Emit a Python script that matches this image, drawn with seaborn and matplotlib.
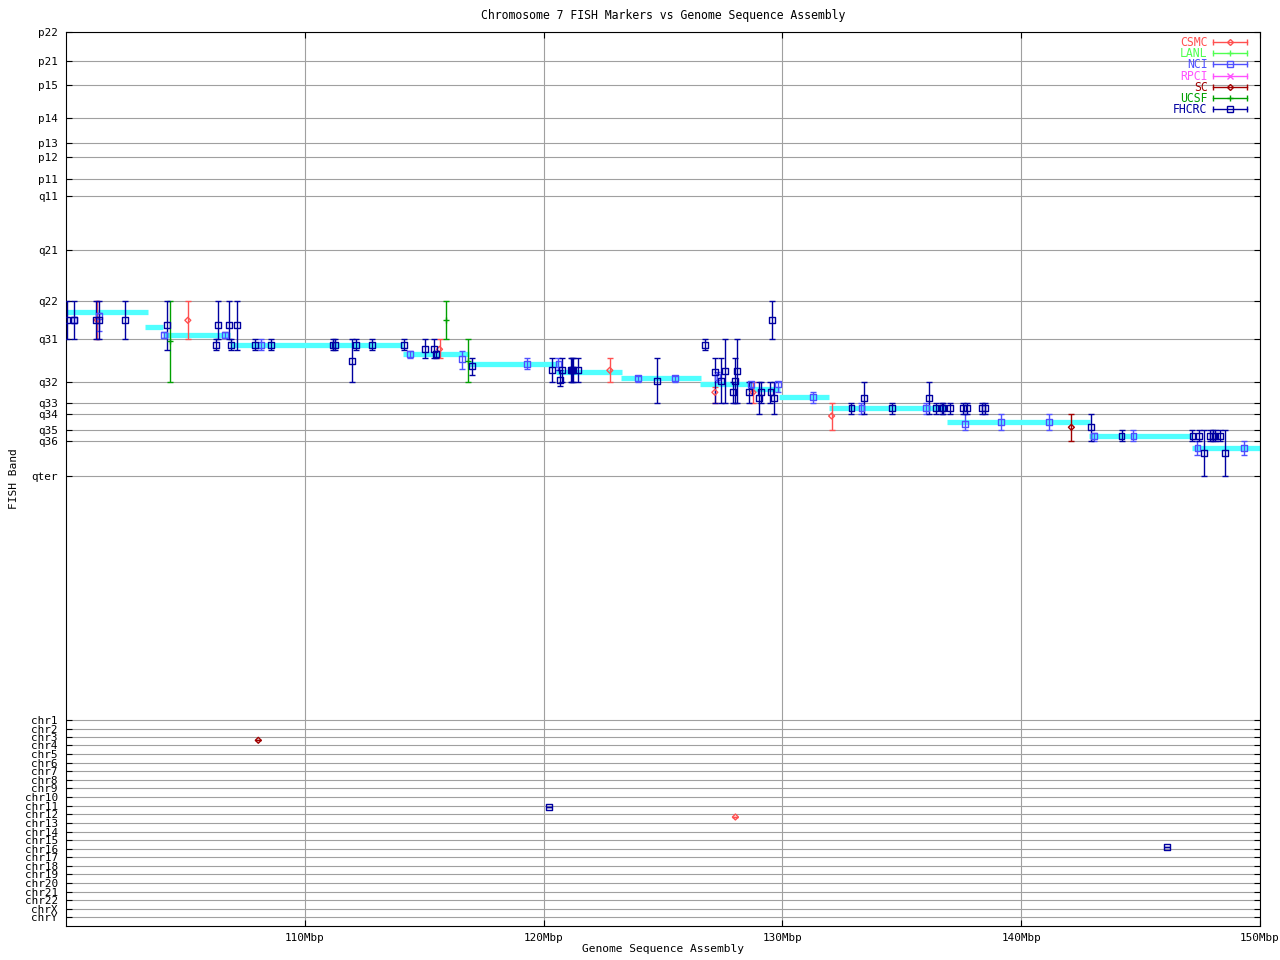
import pandas as pd
import matplotlib.pyplot as plt
import seaborn as sns
from matplotlib.lines import Line2D
from matplotlib.legend_handler import HandlerLine2D

plt.rcParams['font.family'] = ['DejaVu Sans Mono', 'DejaVu Sans']
plt.rcParams['font.size'] = 8.3

# y scale: band position, 0 = top of p22, grows toward qter / other chromosomes
band_labels = ['p22', 'p21', 'p15', 'p14', 'p13', 'p12', 'p11', 'q11', 'q21', 'q22',
               'q31', 'q32', 'q33', 'q34', 'q35', 'q36', 'qter']
band_pos = [0, 29, 53, 86, 111, 125, 147, 164, 218.5, 269,
            307, 350, 371, 382, 398, 409, 444.5]
chr_labels = ['chr1', 'chr2', 'chr3', 'chr4', 'chr5', 'chr6', 'chr7', 'chr8', 'chr9', 'chr10',
              'chr11', 'chr12', 'chr13', 'chr14', 'chr15', 'chr16', 'chr17', 'chr18', 'chr19',
              'chr20', 'chr21', 'chr22', 'chrX', 'chrY']
chr_pos = [688.3, 696.7, 705.3, 713.3, 722, 731, 739.3, 748.3, 756.3, 765.3,
           774, 782.3, 791.3, 799.7, 808.3, 817.3, 825.3, 834, 842.3,
           851.3, 860, 868.3, 877.3, 885.3]

# assembly: band assigned to each stretch of sequence (Mbp)
seg_start = [100.0, 103.31, 104.05, 106.86, 114.11, 116.86, 120.53, 123.22, 126.54, 128.73,
             129.84, 131.93, 136.91, 142.82, 147.14]
seg_end = [103.42, 104.05, 106.86, 114.10, 116.87, 120.64, 123.29, 126.57, 128.73, 129.89,
           131.97, 136.88, 142.89, 147.17, 150.0]
seg_band = [280.3, 294.7, 302.7, 312.7, 321.7, 331.7, 339.7, 345.8, 351.7, 357,
            365, 376, 389.8, 404, 415.7]

# FISH markers per lab: position, band, band range
fhcrc_x = [100.04, 100.35, 101.26, 101.39, 102.48,
           104.24, 106.29, 106.37, 106.83, 106.92, 107.17, 107.92, 108.59,
           111.16, 111.27, 111.98, 112.15, 112.82, 114.15, 115.03, 115.41, 115.49,
           117.00,
           120.36, 120.68, 120.77, 121.16, 121.19, 121.23, 121.45,
           124.74,
           126.75, 127.17, 127.42, 127.59, 127.92, 128.00, 128.09, 128.61, 129.01, 129.09,
           129.50, 129.55, 129.64,
           132.89, 133.40, 134.57, 136.12, 136.41, 136.67, 136.71, 137.00, 137.56, 137.74,
           138.36, 138.49,
           142.94, 144.20, 147.17, 147.46, 147.67, 147.91, 148.02, 148.10, 148.34, 148.55,
           120.21, 146.11]
fhcrc_y = [288.3, 288.3, 288.3, 288.3, 288.3,
           293.3, 313.3, 293.3, 293.3, 313.3, 293.3, 313.3, 313.3,
           313, 313, 329.3, 313, 313, 313, 317.3, 317.3, 322.3,
           334.3,
           338.3, 348, 338.3, 338.3, 338.3, 338.3, 338.3,
           349,
           313.3, 340.3, 349.3, 339.3, 360.3, 349.3, 339.3, 360.3, 366.3, 360.3,
           360.3, 288.3, 366.3,
           376.3, 366.3, 376.3, 366.3, 376.3, 376.3, 376.3, 376.3, 376.3, 376.3,
           376.3, 376.3,
           395.3, 404, 404, 404, 421.3, 404, 404, 404, 404, 421.3,
           775, 815]
fhcrc_lo = [269, 269, 269, 269, 269,
            269, 307, 269, 269, 307, 269, 307, 307,
            307, 307, 307, 307, 307, 307, 307, 307, 319,
            326.3,
            326.3, 338.3, 326.3, 326.3, 326.3, 326.3, 326.3,
            326.3,
            307.3, 326.3, 326.3, 307.3, 350.3, 326.3, 307.3, 350.3, 350.3, 350.3,
            350.3, 269, 350.3,
            371, 350, 371, 350, 371, 371, 371, 371, 371, 371,
            371, 371,
            382, 398, 398, 398, 398, 398, 398, 398, 398, 398,
            775, 815]
fhcrc_hi = [307, 307, 307, 307, 307,
            318, 318, 307, 307, 318, 318, 318, 318,
            318, 318, 350, 318, 318, 318, 326, 326, 326,
            343,
            350, 354, 350, 350, 350, 350, 350,
            371,
            318, 371, 371, 371, 371, 371, 371, 371, 382, 371,
            371, 307.3, 382,
            382, 382, 382, 382, 382, 382, 382, 382, 382, 382,
            382, 382,
            409, 409, 409, 409, 444.5, 409, 409, 409, 409, 444.5,
            775, 815]

nci_x = [100.35, 101.39, 104.11, 106.67, 108.17, 114.41, 116.58, 119.30, 120.62, 123.95,
         125.49, 127.28, 128.69, 129.80, 131.27, 133.31, 136.01, 137.63, 139.14, 141.18,
         143.03, 144.70, 147.38, 149.34]
nci_y = [288.3, 284, 303, 303, 313, 322, 327.3, 331.7, 332.3, 346,
         346, 344.7, 352.3, 352.3, 365, 376.3, 376.3, 392.3, 390, 390.3,
         404, 404, 416.3, 416.3]
nci_lo = [285, 281, 299.7, 299.7, 307, 318.7, 318.7, 326.3, 326.3, 343.7,
          343.7, 340, 350.3, 350.3, 360.3, 371.3, 371.3, 382.3, 382.3, 382.3,
          401, 398.3, 409.3, 409.3]
nci_hi = [291, 299, 306.3, 306.3, 318, 326, 337.3, 337.3, 338, 350.3,
          350.3, 350, 356, 360, 371.3, 382.3, 382.3, 398.3, 398.3, 398.3,
          409.3, 409.3, 423.3, 423.3]

csmc_x = [101.30, 105.10, 115.64, 122.77, 127.17, 128.77, 132.06, 128.03]
csmc_y = [288, 288.3, 317.3, 338.3, 360.3, 360.3, 384, 785]
csmc_lo = [269, 269, 307, 326.3, 354.7, 350.3, 371.3, 785]
csmc_hi = [307, 307, 326, 350.3, 371.3, 371.3, 398, 785]

sc_x = [142.10, 108.05]
sc_y = [395.3, 708.3]
sc_lo = [382.3, 708.3]
sc_hi = [409.3, 708.3]

ucsf_x = [104.36, 115.91, 116.83]
ucsf_y = [309.3, 288.3, 329.3]
ucsf_lo = [269, 269, 307]
ucsf_hi = [350.3, 307, 350.3]

lanl_x, lanl_y, lanl_lo, lanl_hi = [], [], [], []
rpci_x, rpci_y, rpci_lo, rpci_hi = [], [], [], []

sources = ['CSMC', 'LANL', 'NCI', 'RPCI', 'SC', 'UCSF', 'FHCRC']
marks = {
    'CSMC': (csmc_x, csmc_y, csmc_lo, csmc_hi),
    'LANL': (lanl_x, lanl_y, lanl_lo, lanl_hi),
    'NCI': (nci_x, nci_y, nci_lo, nci_hi),
    'RPCI': (rpci_x, rpci_y, rpci_lo, rpci_hi),
    'SC': (sc_x, sc_y, sc_lo, sc_hi),
    'UCSF': (ucsf_x, ucsf_y, ucsf_lo, ucsf_hi),
    'FHCRC': (fhcrc_x, fhcrc_y, fhcrc_lo, fhcrc_hi),
}
colors = {'CSMC': '#ff5050', 'LANL': '#50ff50', 'NCI': '#5050ff', 'RPCI': '#ff50ff',
          'SC': '#a00000', 'UCSF': '#00a000', 'FHCRC': '#0000a0'}
symbols = {'CSMC': 'D', 'LANL': '+', 'NCI': 's', 'RPCI': 'x',
           'SC': 'D', 'UCSF': '+', 'FHCRC': 's'}
sizes = {'D': 9, 's': 18, '+': 22, 'x': 14}

fig, ax = plt.subplots(figsize=(12.8, 9.6), dpi=100)
fig.subplots_adjust(left=0.0516, right=0.9844, top=0.9667, bottom=0.0354)

ax.hlines(seg_band, seg_start, seg_end, color='#50ffff', lw=3.8, zorder=2)

for src in sources:
    x, y, lo, hi = marks[src]
    if not x:
        continue
    df = pd.DataFrame({'Mbp': x, 'band': y, 'lo': lo, 'hi': hi})
    c = colors[src]
    m = symbols[src]
    ax.errorbar(df['Mbp'], df['band'], yerr=[df['band'] - df['lo'], df['hi'] - df['band']],
                fmt='none', ecolor=c, elinewidth=1, capsize=2.2, capthick=1, zorder=3)
    if m in ('s', 'D'):
        kw = dict(facecolor='none', edgecolor=c)
    else:
        kw = dict(color=c)
    sns.scatterplot(data=df, x='Mbp', y='band', ax=ax, marker=m, s=sizes[m],
                    linewidth=1, zorder=4, legend=False, **kw)

ax.set_xlim(100, 150)
ax.set_xticks([110, 120, 130, 140, 150])
ax.set_xticklabels([f'{v}Mbp' for v in [110, 120, 130, 140, 150]])
ax.set_ylim(894, 0)
ax.set_yticks(band_pos + chr_pos)
ax.set_yticklabels(band_labels + chr_labels)
ax.tick_params(direction='in', length=4.5, width=0.8, right=True, top=True,
               labelsize=7.9, colors='black')
ax.tick_params(axis='y', pad=6)
ax.tick_params(axis='x', pad=5)
ax.grid(True, color='#a0a0a0', lw=0.8)
ax.set_axisbelow(True)
for s in ax.spines.values():
    s.set_linewidth(0.8)
    s.set_color('black')

ax.set_title('Chromosome 7 FISH Markers vs Genome Sequence Assembly', fontsize=8.3, pad=9)
ax.set_xlabel('Genome Sequence Assembly', fontsize=8.1, labelpad=1)
ax.set_ylabel('FISH Band', fontsize=8.1, labelpad=4)

# legend: errorbar sample (line with end caps) and the lab's point symbol
handles = []
hmap = {}
for src in sources:
    c = colors[src]
    m = symbols[src]
    cap = Line2D([], [], color=c, lw=1, marker='|', ms=5, mew=1)
    hmap[cap] = HandlerLine2D(numpoints=2, marker_pad=0)
    if m in ('s', 'D'):
        pt = Line2D([], [], ls='none', marker=m, ms=4 if m == 's' else 3,
                    mfc='none', mec=c, mew=1)
    else:
        pt = Line2D([], [], ls='none', marker=m, ms=4, color=c, mew=1)
    handles.append((cap, pt))
leg = ax.legend(handles, sources, handler_map=hmap, loc='upper right',
                bbox_to_anchor=(0.9966, 1.0056), frameon=False,
                markerfirst=False, handlelength=2.9, handletextpad=0.5,
                labelspacing=-0.16, borderaxespad=0.6, borderpad=0.2, fontsize=8.3)
for t, src in zip(leg.get_texts(), sources):
    t.set_color(colors[src])

fig.savefig('out.png', dpi=100)
